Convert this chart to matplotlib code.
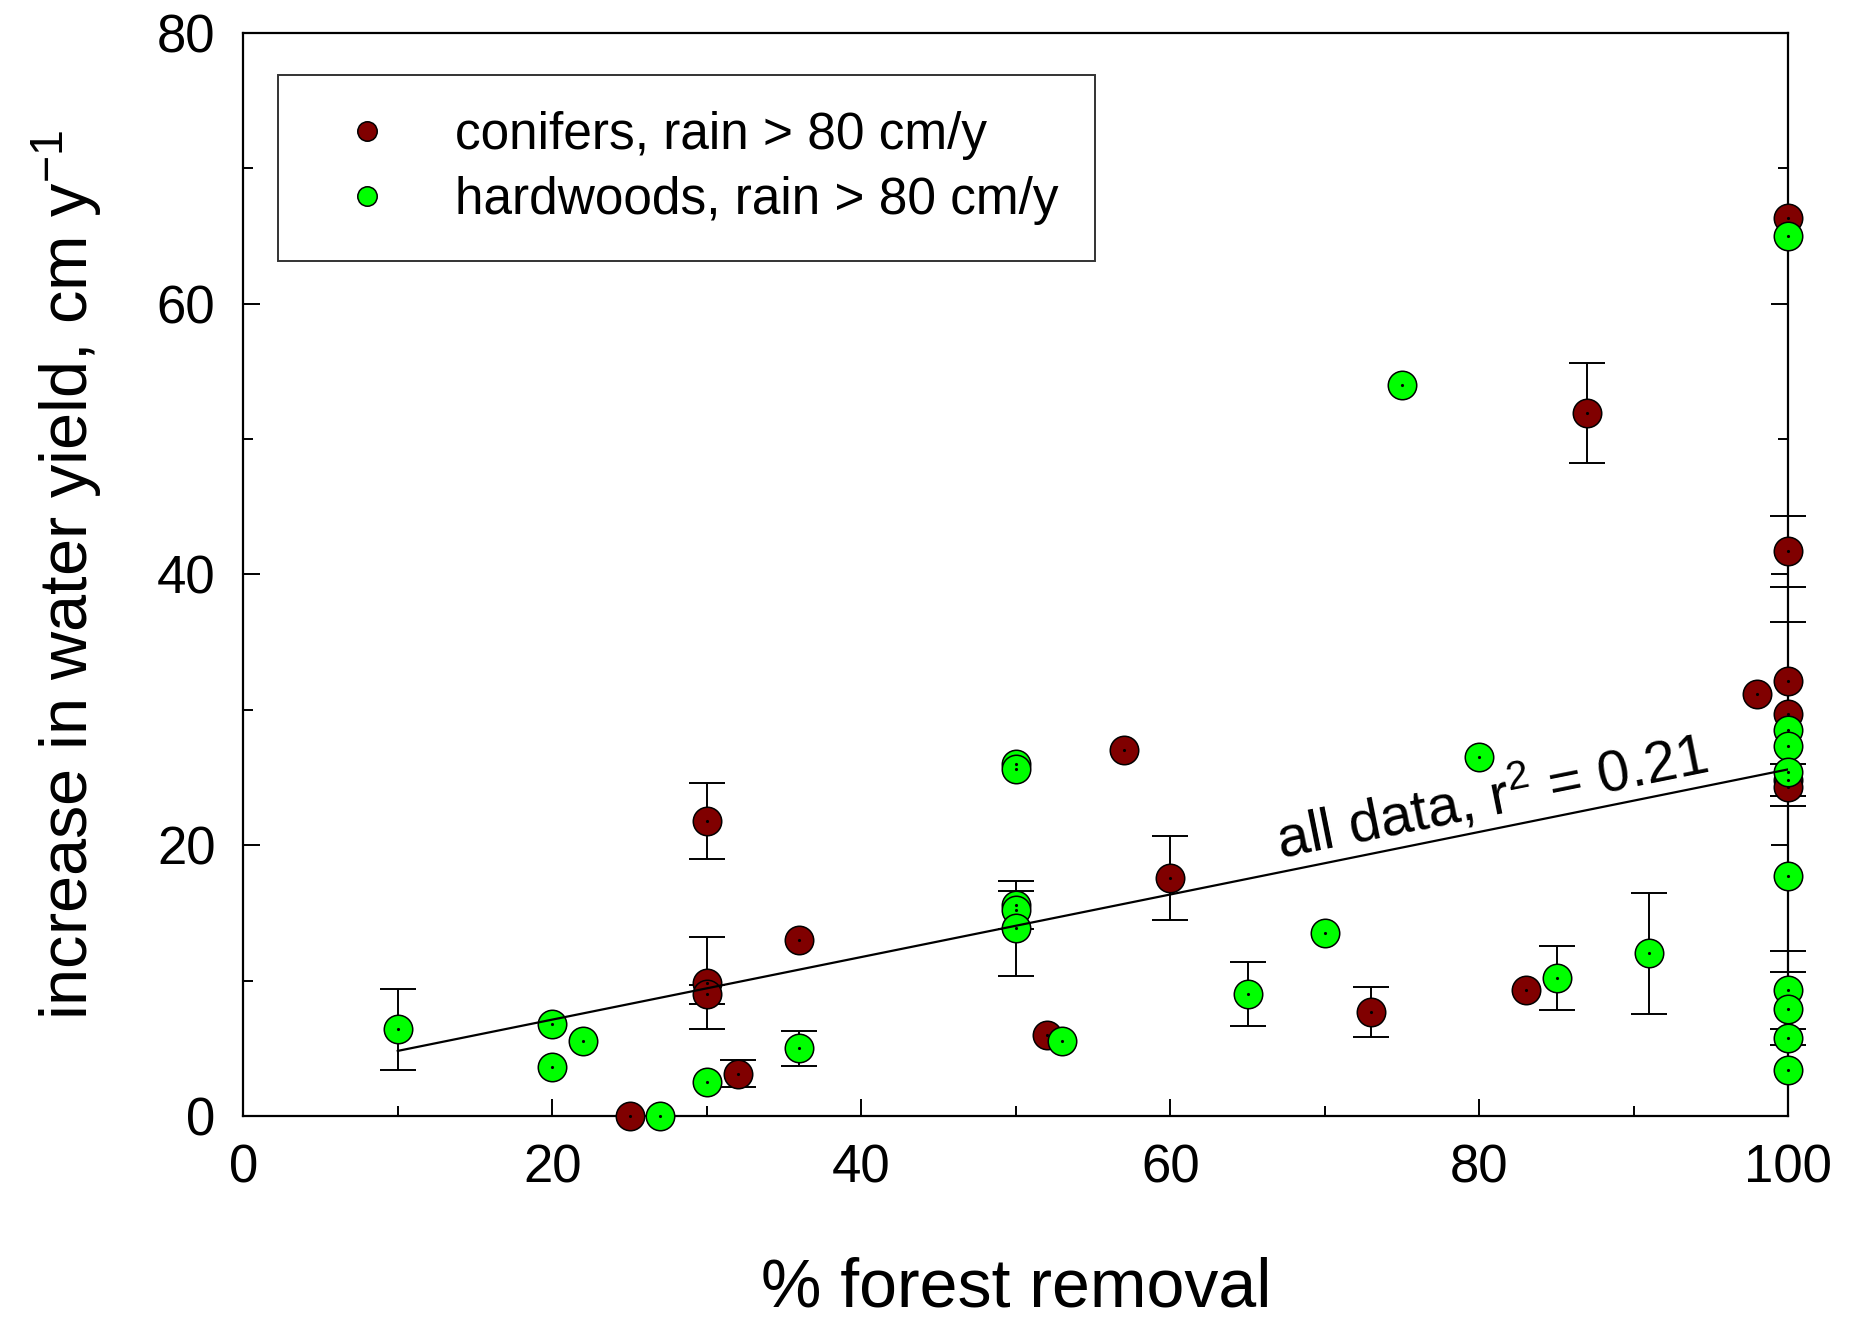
import matplotlib
matplotlib.use('Agg')
import matplotlib.pyplot as plt
from matplotlib.lines import Line2D
from matplotlib import font_manager
import numpy as np

plt.rcParams['font.family'] = ['Liberation Sans', 'DejaVu Sans']
plt.rcParams['mathtext.fontset'] = 'custom'
plt.rcParams['mathtext.rm'] = 'Liberation Sans'
plt.rcParams['mathtext.it'] = 'Liberation Sans:italic'

# conifers, rain > 80 cm/y
con_x = [25, 30, 30, 30, 32, 36, 52, 57, 60, 73, 83, 87, 98,
         100, 100, 100, 100, 100, 100]
con_y = [0, 21.8, 9.8, 9.0, 3.1, 13.0, 6.0, 27.0, 17.6, 7.7, 9.3, 51.9, 31.2,
         66.3, 41.7, 32.1, 29.7, 24.8, 24.3]
con_err = [0, 2.8, 3.4, 0.7, 1.0, 0, 0, 0, 3.1, 1.85, 0, 3.7, 0,
           0, 2.6, 0, 6.8, 1.2, 0]

# hardwoods, rain > 80 cm/y
hard_x = [10, 20, 20, 22, 27, 30, 36, 50, 50, 50, 50, 50, 53, 65, 70, 75, 80,
          85, 91, 100, 100, 100, 100, 100, 100, 100, 100, 100]
hard_y = [6.4, 6.8, 3.6, 5.5, 0, 2.5, 5.0, 26.0, 25.6, 15.6, 15.2, 13.85, 5.5,
          9.0, 13.5, 54.0, 26.5, 10.2, 12.0, 65.0, 28.5, 27.3, 25.4, 17.75,
          9.3, 7.9, 5.75, 3.4]
hard_err = [3.0, 0, 0, 0, 0, 0, 1.3, 0, 0, 0, 1.4, 3.5, 0, 2.35, 0, 0, 0,
            2.35, 4.5, 0, 0, 0, 0, 0, 2.9, 2.7, 0, 0]

# regression line, all data
fit_x = [10, 100]
fit_y = [4.8, 25.6]

red = '#800000'
green = '#00ff00'

# the r^2 note is set in a tall, condensed face
installed = {f.name for f in font_manager.fontManager.ttflist}
if 'Liberation Sans Narrow' in installed:
    note_family, note_size = ['Liberation Sans Narrow', 'Liberation Sans'], 49
else:
    note_family, note_size = ['Liberation Sans', 'DejaVu Sans'], 41.5

fig = plt.figure(figsize=(18.57, 13.19), dpi=100)
ax = fig.add_axes([0.131, 0.154, 0.832, 0.821])

for xs, ys, es in [(con_x, con_y, con_err), (hard_x, hard_y, hard_err)]:
    xs = np.array(xs)
    ys = np.array(ys)
    es = np.array(es)
    m = es > 0
    eb = ax.errorbar(xs[m], ys[m], yerr=es[m], fmt='none', ecolor='k',
                     elinewidth=1.4, capsize=13, capthick=1.4, zorder=2)
    for art in eb.get_children():
        art.set_clip_on(False)

ax.plot(con_x, con_y, 'o', ms=20.5, mfc=red, mec='k', mew=1.1, ls='none',
        zorder=3, clip_on=False)
ax.plot(hard_x, hard_y, 'o', ms=20.5, mfc=green, mec='k', mew=1.1, ls='none',
        zorder=3, clip_on=False)
ax.plot(con_x + hard_x, con_y + hard_y, '.', ms=2.5, color='k', ls='none',
        zorder=4, clip_on=False)

ax.plot(fit_x, fit_y, color='k', lw=1.6, zorder=5)
ax.text(67.1, 19.0, 'all data, r$^2$ = 0.21', fontsize=note_size,
        family=note_family, rotation=11.4,
        ha='left', va='baseline', rotation_mode='anchor')

ax.set_xlim(0, 100)
ax.set_ylim(0, 80)
ax.set_xticks([0, 20, 40, 60, 80, 100])
ax.set_xticks([10, 30, 50, 70, 90], minor=True)
ax.set_yticks([0, 20, 40, 60, 80])
ax.set_yticks([10, 30, 50, 70], minor=True)
ax.tick_params(which='both', direction='in', right=True, top=False,
               labelsize=38, width=1.4, pad=20)
ax.tick_params(which='major', length=12)
ax.tick_params(which='minor', length=7)
for s in ax.spines.values():
    s.set_linewidth(1.6)

ax.set_xlabel('% forest removal', fontsize=49)
ax.xaxis.set_label_coords(0.5, -0.130)
ax.set_ylabel('increase in water yield, cm y$^{-1}$', fontsize=48)
ax.yaxis.set_label_coords(-0.090, 0.5)

handles = [Line2D([], [], marker='o', ls='none', ms=14, mfc=red, mec='k', mew=1.1),
           Line2D([], [], marker='o', ls='none', ms=14, mfc=green, mec='k', mew=1.1)]
leg = ax.legend(handles, ['conifers, rain > 80 cm/y', 'hardwoods, rain > 80 cm/y'],
                loc='upper left', bbox_to_anchor=(0.0227, 0.961), borderaxespad=0,
                fontsize=37, frameon=True, fancybox=False, edgecolor='k',
                borderpad=0.7, labelspacing=0.3, handletextpad=0.68,
                handlelength=2.06)
leg.get_frame().set_linewidth(1.4)

fig.savefig('out.png', dpi=100)
